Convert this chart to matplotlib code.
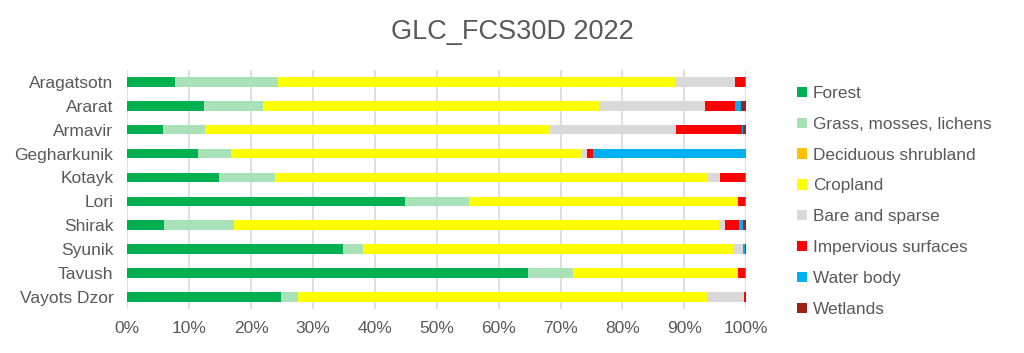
import matplotlib
matplotlib.use("Agg")
import matplotlib.pyplot as plt
from matplotlib.patches import Patch
from matplotlib.ticker import PercentFormatter

plt.rcParams['font.family'] = ['Liberation Sans', 'DejaVu Sans']

provinces = ["Aragatsotn", "Ararat", "Armavir", "Gegharkunik", "Kotayk",
             "Lori", "Shirak", "Syunik", "Tavush", "Vayots Dzor"]
classes = ["Forest", "Grass, mosses, lichens", "Deciduous shrubland", "Cropland",
           "Bare and sparse", "Impervious surfaces", "Water body", "Wetlands"]

forest    = [7.7, 12.4, 5.8, 11.4, 14.8, 44.9, 6.0, 34.8, 64.8, 24.9]
grass     = [16.7, 9.5, 6.8, 5.4, 9.1, 10.3, 11.2, 3.3, 7.3, 2.7]
shrub     = [0.0, 0.0, 0.0, 0.0, 0.0, 0.0, 0.0, 0.0, 0.0, 0.0]
cropland  = [64.1, 54.3, 55.7, 56.7, 69.9, 43.4, 78.4, 59.8, 26.5, 66.1]
bare      = [9.7, 17.2, 20.4, 0.7, 2.0, 0.05, 1.0, 1.5, 0.1, 6.0]
imperv    = [1.7, 4.8, 10.6, 1.0, 4.0, 1.2, 2.3, 0.1, 1.2, 0.3]
water     = [0.05, 0.9, 0.1, 24.7, 0.1, 0.1, 0.5, 0.3, 0.05, 0.0]
wetlands  = [0.1, 0.9, 0.6, 0.1, 0.1, 0.1, 0.6, 0.2, 0.1, 0.0]

series = [forest, grass, shrub, cropland, bare, imperv, water, wetlands]
colors = ["#00B050", "#A9E2B9", "#FFC000", "#FFFF00", "#D9D9D9",
          "#FF0000", "#00B0F0", "#A0201A"]

fig = plt.figure(figsize=(10.24, 3.53), dpi=100)
ax = fig.add_axes([0.1243, 0.125, 0.6045, 0.677])

y = list(range(len(provinces)))
left = [0.0] * len(provinces)
totals = [sum(s[i] for s in series) for i in range(len(provinces))]
for vals, col, name in zip(series, colors, classes):
    frac = [v / t * 100 for v, t in zip(vals, totals)]
    ax.barh(y, frac, left=left, height=0.4, color=col, label=name, zorder=3)
    left = [l + f for l, f in zip(left, frac)]

ax.set_xlim(0, 100)
ax.set_ylim(len(provinces) - 0.5, -0.5)
ax.set_yticks(y)
ax.set_yticklabels(provinces)
ax.set_xticks(range(0, 101, 10))
ax.xaxis.set_major_formatter(PercentFormatter(decimals=0))
ax.grid(axis='x', color='#D9D9D9', linewidth=1.2, zorder=0)
for s in ax.spines.values():
    s.set_visible(False)
ax.tick_params(axis='both', length=0, labelsize=12.5, colors='#595959')
ax.tick_params(axis='x', pad=9)
ax.tick_params(axis='y', pad=10)

fig.suptitle("GLC_FCS30D 2022", x=0.5, y=0.945, fontsize=19.5, color='#595959')

handles = [Patch(facecolor=c, edgecolor='none') for c in colors]
fig.legend(handles, classes, loc='upper left', bbox_to_anchor=(0.772, 0.776),
           frameon=False, fontsize=12.4, labelcolor='#595959',
           handlelength=0.55, handleheight=0.55, handletextpad=0.35,
           labelspacing=0.92, borderaxespad=0)

fig.savefig("out.png", dpi=100, facecolor='white')
